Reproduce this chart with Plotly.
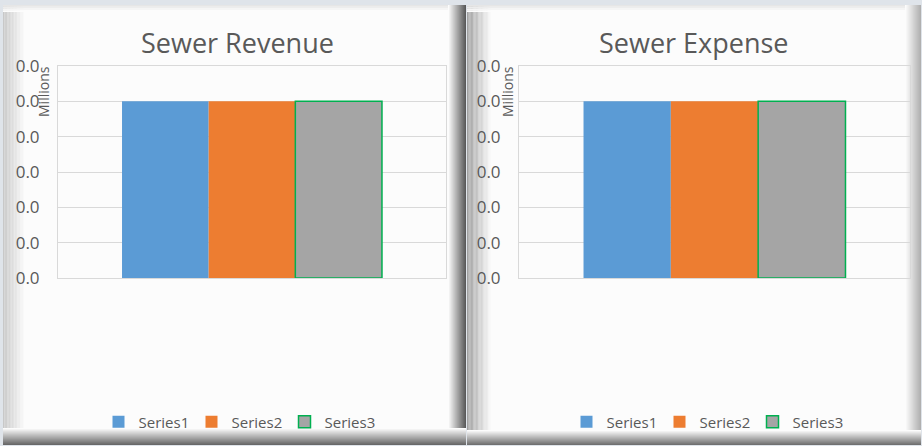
import plotly.graph_objects as go

W, H = 922, 446

# ---- data ----
categories = ["Total"]
series_names = ["Series1", "Series2", "Series3"]
revenue_values = [0.025, 0.025, 0.025]   # millions
expense_values = [0.025, 0.025, 0.025]   # millions
chart_titles = ["Sewer Revenue", "Sewer Expense"]
y_ticks = [0, 0.005, 0.01, 0.015, 0.02, 0.025, 0.03]

colors = ["#5b9bd5", "#ed7d31", "#a5a5a5"]
outlines = [None, None, "#00b050"]
FONT = "Open Sans"
TXT = "#595959"


def px(x):
    return x / W


def py(y):
    return 1 - y / H


def hexmix(c1, c2, t):
    a = [int(c1[i:i + 2], 16) for i in (1, 3, 5)]
    b = [int(c2[i:i + 2], 16) for i in (1, 3, 5)]
    m = [round(a[k] + (b[k] - a[k]) * t) for k in range(3)]
    return "#%02x%02x%02x" % tuple(m)


shapes = []


def rect(x0, y0, x1, y1, color):
    shapes.append(dict(type="rect", xref="paper", yref="paper",
                       x0=px(x0), x1=px(x1), y0=py(y1), y1=py(y0),
                       fillcolor=color, line=dict(width=0), layer="below"))


def grad(x0, y0, x1, y1, c0, c1, n, horizontal=True):
    for i in range(n):
        t = i / (n - 1)
        col = hexmix(c0, c1, t)
        if horizontal:
            a = x0 + (x1 - x0) * i / n
            b = x0 + (x1 - x0) * (i + 1) / n
            rect(min(a, b), y0, max(a, b), y1, col)
        else:
            a = y0 + (y1 - y0) * i / n
            b = y0 + (y1 - y0) * (i + 1) / n
            rect(x0, min(a, b), x1, max(a, b), col)


PANEL = "#fcfcfc"
# background
rect(0, 0, W, H, "#dfe4ea")
# left panel
rect(3, 5, 466, 445, PANEL)
grad(3, 5, 26, 445, "#c8c8c8", PANEL, 16)
grad(3, 5, 466, 12, "#e6e6e6", PANEL, 4, horizontal=False)
grad(466, 5, 448, 445, "#5a5a5a", PANEL, 18)
grad(3, 445, 466, 428, "#686868", PANEL, 17, horizontal=False)
# right panel
rect(467, 5, 921, 445, PANEL)
grad(467, 5, 492, 445, "#a0a0a0", PANEL, 20)
grad(467, 5, 921, 12, "#e6e6e6", PANEL, 4, horizontal=False)
grad(921, 5, 905, 445, "#b0b0b0", PANEL, 16)
grad(467, 445, 921, 430, "#707070", PANEL, 15, horizontal=False)

fig = go.Figure()

panels = [
    dict(vals=revenue_values, xa="x", ya="y", leg="legend",
         title_x=237, mill_x=43),
    dict(vals=expense_values, xa="x2", ya="y2", leg="legend2",
         title_x=694, mill_x=507),
]

for p in panels:
    for name, v, c, oc in zip(series_names, p["vals"], colors, outlines):
        fig.add_trace(go.Bar(
            x=categories, y=[v], name=name,
            marker=dict(color=c, line=dict(color=oc if oc else c,
                                           width=1.5 if oc else 0)),
            xaxis=p["xa"], yaxis=p["ya"], legend=p["leg"],
            hoverinfo="skip",
        ))

annotations = []
for p, t in zip(panels, chart_titles):
    annotations.append(dict(text=t, x=px(p["title_x"]), y=py(42),
                            xref="paper", yref="paper", showarrow=False,
                            xanchor="center", yanchor="middle",
                            font=dict(family=FONT, size=27, color=TXT)))
    annotations.append(dict(text="Millions", x=px(p["mill_x"]), y=py(92),
                            xref="paper", yref="paper", showarrow=False,
                            textangle=-90, xanchor="center", yanchor="middle",
                            font=dict(family=FONT, size=14, color=TXT)))

axis_common_x = dict(showticklabels=False, showgrid=False, zeroline=False,
                     showline=True, mirror=True, linecolor="#d9d9d9",
                     linewidth=1, ticks="", fixedrange=True)
axis_common_y = dict(range=[0, 0.03], tickvals=y_ticks, tickformat=".1f",
                     showgrid=True, gridcolor="#d9d9d9", gridwidth=1,
                     zeroline=False, showline=True, mirror=True,
                     linecolor="#d9d9d9", ticks="", ticklabelstandoff=14,
                     tickfont=dict(family=FONT, size=17, color=TXT),
                     fixedrange=True)

ydom = [py(278), py(66)]
legfont = dict(family=FONT, size=15, color=TXT)

fig.update_layout(
    width=W, height=H,
    margin=dict(l=0, r=0, t=0, b=0, autoexpand=False),
    paper_bgcolor="#dfe4ea",
    plot_bgcolor="rgba(0,0,0,0)",
    barmode="group", bargap=0.33, bargroupgap=0,
    xaxis=dict(domain=[px(58), px(446)], **axis_common_x),
    yaxis=dict(domain=ydom, anchor="x", **axis_common_y),
    xaxis2=dict(domain=[px(519), px(910)], anchor="y2", **axis_common_x),
    yaxis2=dict(domain=ydom, anchor="x2", **axis_common_y),
    legend=dict(orientation="h", x=px(238), y=py(422), xanchor="center",
                yanchor="middle", bgcolor="rgba(0,0,0,0)", font=legfont,
                itemwidth=30, tracegroupgap=0, entrywidth=48),
    legend2=dict(orientation="h", x=px(706), y=py(422), xanchor="center",
                 yanchor="middle", bgcolor="rgba(0,0,0,0)", font=legfont,
                 itemwidth=30, tracegroupgap=0, entrywidth=48),
    shapes=shapes,
    annotations=annotations,
    showlegend=True,
)

fig.write_html("out.html")
